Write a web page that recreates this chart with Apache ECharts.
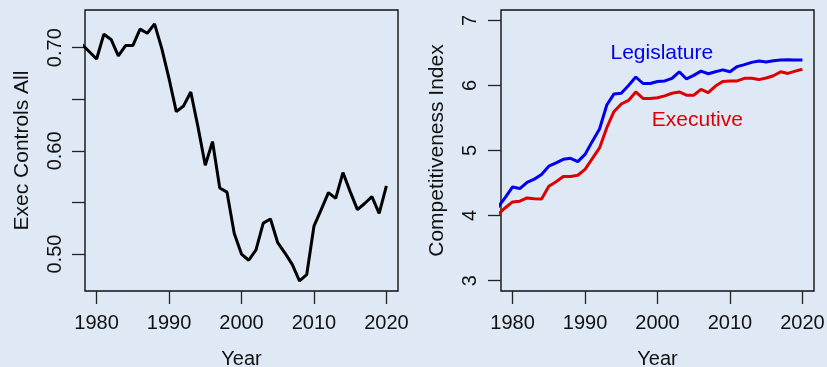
<!DOCTYPE html>
<html>
<head>
<meta charset="utf-8">
<script src="https://cdn.jsdelivr.net/npm/echarts@6/dist/echarts.min.js"></script>
<style>
html,body{margin:0;padding:0;background:#dee9f5;}
#c{width:827px;height:367px;}
</style>
</head>
<body>
<div id="c"></div>
<script>
var years = [];
for (var y = 1978; y <= 2020; y++) years.push(y);

var execControls = [0.703,0.696,0.689,0.713,0.708,0.692,0.702,0.702,0.718,0.714,0.723,0.699,0.670,0.638,0.6435,0.657,0.623,0.586,0.609,0.564,0.560,0.520,0.500,0.494,0.504,0.530,0.534,0.511,0.501,0.490,0.474,0.480,0.527,0.543,0.5595,0.554,0.579,0.5605,0.543,0.549,0.5556,0.5395,0.566];

var legislature = [4.13,4.28,4.44,4.415,4.51,4.56,4.63,4.76,4.81,4.865,4.88,4.83,4.94,5.14,5.33,5.70,5.87,5.88,6.00,6.13,6.03,6.03,6.06,6.07,6.11,6.21,6.10,6.155,6.22,6.18,6.21,6.24,6.21,6.29,6.32,6.355,6.375,6.36,6.38,6.39,6.395,6.39,6.39];

var executive = [4.02,4.12,4.21,4.22,4.27,4.26,4.255,4.45,4.52,4.60,4.60,4.62,4.71,4.875,5.04,5.35,5.60,5.715,5.77,5.90,5.80,5.80,5.81,5.84,5.88,5.90,5.85,5.85,5.94,5.89,5.99,6.06,6.07,6.07,6.11,6.11,6.09,6.115,6.15,6.21,6.185,6.22,6.25];

var xTicks = [1980,1990,2000,2010,2020];
var leftTicks = [0.50,0.55,0.60,0.65,0.70];
var leftLabels = [0.50,0.60,0.70];
var rightTicks = [3,4,5,6,7];

function pairs(vals){ return years.map(function(yr,i){return [yr, vals[i]];}); }

var FONT = 'Liberation Sans, Arial, Helvetica, sans-serif';
var TXT = '#111';

function xAxis(idx){
  return {
    type:'value', gridIndex:idx, min:1978.4, max:2021.6,
    axisLine:{show:false},
    splitLine:{show:false},
    axisTick:{show:true, customValues:xTicks, length:13, lineStyle:{color:'#222', width:1.3}},
    axisLabel:{customValues:xTicks, margin:22, fontSize:20, color:TXT, fontFamily:FONT,
      formatter:function(v){return String(v);}},
    name:'Year', nameLocation:'middle', nameGap:58,
    nameTextStyle:{fontSize:20, color:TXT, fontFamily:FONT}
  };
}

var option = {
  backgroundColor:'#dee9f5',
  animation:false,
  grid:[
    {left:85, top:10, width:313, height:281, show:true, borderColor:'#111', borderWidth:1.4, backgroundColor:'transparent', outerBoundsMode:'none', containLabel:false},
    {left:501, top:10, width:313, height:281, show:true, borderColor:'#111', borderWidth:1.4, backgroundColor:'transparent', outerBoundsMode:'none', containLabel:false}
  ],
  xAxis:[xAxis(0), xAxis(1)],
  yAxis:[
    {type:'value', gridIndex:0, min:0.4642, max:0.7365,
     axisLine:{show:false}, splitLine:{show:false},
     axisTick:{show:true, customValues:leftTicks, length:13, lineStyle:{color:'#222', width:1.3}},
     axisLabel:{customValues:leftLabels, rotate:90, margin:20, fontSize:20, color:TXT, fontFamily:FONT,
       formatter:function(v){return v.toFixed(2);}},
     name:'Exec Controls All', nameLocation:'middle', nameGap:52,
     nameTextStyle:{fontSize:21, color:TXT, fontFamily:FONT}},
    {type:'value', gridIndex:1, min:2.84, max:7.16,
     axisLine:{show:false}, splitLine:{show:false},
     axisTick:{show:true, customValues:rightTicks, length:13, lineStyle:{color:'#222', width:1.3}},
     axisLabel:{customValues:rightTicks, rotate:90, margin:21, fontSize:20, color:TXT, fontFamily:FONT},
     name:'Competitiveness Index', nameLocation:'middle', nameGap:53,
     nameTextStyle:{fontSize:21, color:TXT, fontFamily:FONT}}
  ],
  series:[
    {type:'line', xAxisIndex:0, yAxisIndex:0, data:pairs(execControls), showSymbol:false, symbol:'none',
     lineStyle:{color:'#000', width:3}, clip:true},
    {type:'line', xAxisIndex:1, yAxisIndex:1, data:pairs(legislature), showSymbol:false, symbol:'none',
     lineStyle:{color:'#0000ee', width:3}, clip:true,
     markPoint:{symbol:'rect', symbolSize:1, itemStyle:{color:'rgba(0,0,0,0)'}, silent:true,
       data:[{coord:[2000.6, 6.49], value:'Legislature'}],
       label:{show:true, position:'inside', formatter:'Legislature', fontSize:21, color:'#0000ee', fontFamily:FONT}}},
    {type:'line', xAxisIndex:1, yAxisIndex:1, data:pairs(executive), showSymbol:false, symbol:'none',
     lineStyle:{color:'#dd0000', width:3}, clip:true,
     markPoint:{symbol:'rect', symbolSize:1, itemStyle:{color:'rgba(0,0,0,0)'}, silent:true,
       data:[{coord:[2005.5, 5.46], value:'Executive'}],
       label:{show:true, position:'inside', formatter:'Executive', fontSize:21, color:'#dd0000', fontFamily:FONT}}}
  ]
};

var chart = echarts.init(document.getElementById('c'), null, {renderer:'canvas'});
chart.setOption(option);
</script>
</body>
</html>
